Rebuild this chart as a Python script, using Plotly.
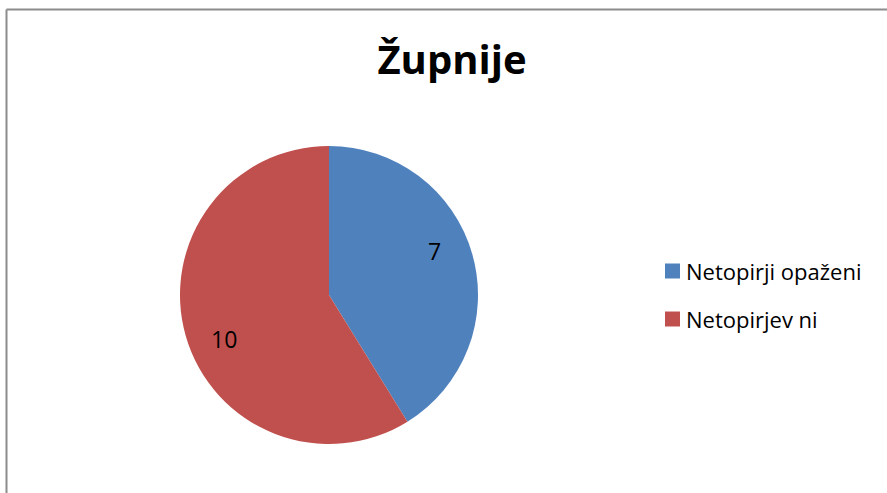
import math
import plotly.graph_objects as go

title_text = "Župnije"
labels = ["Netopirji opaženi", "Netopirjev ni"]
values = [7, 10]
colors = ["#4F81BD", "#C0504D"]

W, H = 887, 493
CX, CY, R = 329, 295, 149  # pie centre / radius in pixels

fig = go.Figure()
fig.add_trace(go.Pie(
    labels=labels,
    values=values,
    sort=False,
    direction="clockwise",
    rotation=0,
    marker=dict(colors=colors, line=dict(width=0)),
    textinfo="none",
    domain=dict(x=[(CX - R) / W, (CX + R) / W], y=[1 - (CY + R) / H, 1 - (CY - R) / H]),
    showlegend=False,
    hoverinfo="label+value",
))

# data labels placed near the middle angle of each slice
total = sum(values)
cum = 0
for v in values:
    mid = (cum + v / 2) / total * 2 * math.pi - math.radians(7)
    cum += v
    px = CX + 0.765 * R * math.sin(mid)
    py = CY - 0.765 * R * math.cos(mid)
    fig.add_annotation(xref="paper", yref="paper", x=px / W, y=1 - py / H,
                       xanchor="center", yanchor="middle", text=str(v), showarrow=False,
                       font=dict(family="Open Sans", size=23, color="black"))

# legend drawn as squares + text from the label/colour arrays
for i, (lab, col) in enumerate(zip(labels, colors)):
    yc = 1 - (271 + 48 * i) / H
    fig.add_shape(type="rect", xref="paper", yref="paper",
                  x0=665 / W, x1=680 / W, y0=yc - 7.5 / H, y1=yc + 7.5 / H,
                  fillcolor=col, line=dict(width=0))
    fig.add_annotation(xref="paper", yref="paper", x=684 / W, y=yc,
                       xanchor="left", yanchor="middle", text=lab, showarrow=False,
                       font=dict(family="Open Sans", size=22, color="black"))

# chart border (top and left edges visible)
fig.add_shape(type="line", xref="paper", yref="paper", x0=6.5 / W, x1=1, y0=1 - 9.5 / H, y1=1 - 9.5 / H,
              line=dict(color="#8c8c8c", width=2))
fig.add_shape(type="line", xref="paper", yref="paper", x0=6.5 / W, x1=6.5 / W, y0=0, y1=1 - 9.5 / H,
              line=dict(color="#8c8c8c", width=2))

fig.update_layout(
    width=W, height=H,
    margin=dict(l=0, r=0, t=0, b=0),
    paper_bgcolor="white",
    plot_bgcolor="white",
    title=dict(text="<b>" + title_text + "</b>", x=452 / W, xanchor="center", y=1 - 60 / H, yanchor="middle",
               font=dict(family="Open Sans", size=40, color="black")),
)

fig.write_html("out.html", config={"displayModeBar": False},
               post_script="document.body.style.margin='0px';")
